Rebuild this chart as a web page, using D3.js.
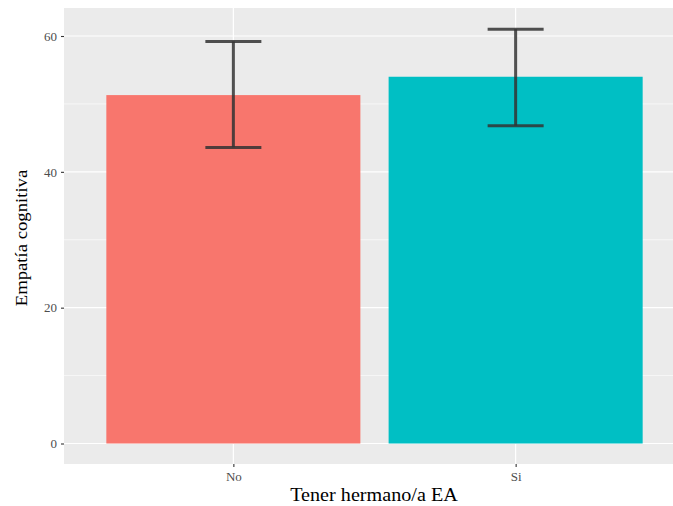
<!DOCTYPE html>
<html lang="es">
<head>
<meta charset="UTF-8">
<title>Empatía cognitiva</title>
<script src="https://d3js.org/d3.v7.min.js"></script>
<style>
  body { margin: 0; background: #fff; }
  svg { display: block; font-family: "Liberation Serif", "DejaVu Serif", serif; }
  .tick text { fill: #4d4d4d; font-size: 13px; font-family: "Liberation Serif", serif; }
</style>
</head>
<body>
<svg id="chart" width="673" height="506"></svg>
<script>
// datos
const categories = ["No", "Si"];
const means = [51.3, 54.0];
const lower = [43.6, 46.8];
const upper = [59.2, 61.0];
const yTicks = [0, 20, 40, 60];
const colors = ["#F8766D", "#00BFC4"];

const svg = d3.select("#chart");
const panel = { left: 64, top: 8, right: 685, bottom: 464 };

// escala discreta con la expansión de ggplot (0.6 unidades por lado)
const x = d3.scaleLinear().domain([0.4, 2.6]).range([panel.left, panel.right]);
const y = d3.scaleLinear().domain([0, 60]).range([443.5, 36]);
const barW = x(1.45) - x(0.55);

svg.append("rect")
  .attr("x", panel.left).attr("y", panel.top)
  .attr("width", panel.right - panel.left).attr("height", panel.bottom - panel.top)
  .attr("fill", "#ebebeb");

const minor = [10, 30, 50];
svg.selectAll(".minor").data(minor).enter().append("line")
  .attr("x1", panel.left).attr("x2", panel.right)
  .attr("y1", d => y(d)).attr("y2", d => y(d))
  .attr("stroke", "#fff").attr("stroke-width", 0.6);

svg.selectAll(".major").data(yTicks).enter().append("line")
  .attr("x1", panel.left).attr("x2", panel.right)
  .attr("y1", d => y(d)).attr("y2", d => y(d))
  .attr("stroke", "#fff").attr("stroke-width", 1.2);

svg.selectAll(".vgrid").data(categories).enter().append("line")
  .attr("x1", (d, i) => x(i + 1)).attr("x2", (d, i) => x(i + 1))
  .attr("y1", panel.top).attr("y2", panel.bottom)
  .attr("stroke", "#fff").attr("stroke-width", 1.2);

// barras
svg.selectAll(".bar").data(means).enter().append("rect")
  .attr("x", (d, i) => x(i + 1) - barW / 2)
  .attr("y", d => y(d))
  .attr("width", barW)
  .attr("height", d => y(0) - y(d))
  .attr("fill", (d, i) => colors[i]);

// barras de error
const capW = 56;
const eb = svg.selectAll(".err").data(categories).enter().append("g")
  .attr("stroke", "#333").attr("stroke-opacity", 0.85).attr("stroke-width", 3);
eb.append("line")
  .attr("x1", (d, i) => x(i + 1)).attr("x2", (d, i) => x(i + 1))
  .attr("y1", (d, i) => y(upper[i])).attr("y2", (d, i) => y(lower[i]));
eb.append("line")
  .attr("x1", (d, i) => x(i + 1) - capW / 2).attr("x2", (d, i) => x(i + 1) + capW / 2)
  .attr("y1", (d, i) => y(upper[i])).attr("y2", (d, i) => y(upper[i]));
eb.append("line")
  .attr("x1", (d, i) => x(i + 1) - capW / 2).attr("x2", (d, i) => x(i + 1) + capW / 2)
  .attr("y1", (d, i) => y(lower[i])).attr("y2", (d, i) => y(lower[i]));

// ejes
const yAxis = d3.axisLeft(y).tickValues(yTicks).tickSize(3).tickPadding(4);
svg.append("g").attr("transform", `translate(${panel.left},0)`).call(yAxis)
  .attr("font-family", null).attr("font-size", null)
  .call(g => g.select(".domain").remove())
  .call(g => g.selectAll(".tick line").attr("stroke", "#333").attr("stroke-width", 1.1));

const xBand = d3.scalePoint().domain(categories).range([x(1), x(2)]);
const xAxis = d3.axisBottom(xBand).tickSize(3).tickPadding(5);
svg.append("g").attr("transform", `translate(0,${panel.bottom})`).call(xAxis)
  .attr("font-family", null).attr("font-size", null)
  .call(g => g.select(".domain").remove())
  .call(g => g.selectAll(".tick line").attr("stroke", "#333").attr("stroke-width", 1.1));

svg.append("text")
  .attr("transform", "translate(374,501) scale(1.12,1)")
  .attr("text-anchor", "middle").attr("font-size", 18).attr("fill", "#000")
  .text("Tener hermano/a EA");

svg.append("text")
  .attr("transform", "translate(27,238) rotate(-90) scale(1.1,1)")
  .attr("text-anchor", "middle").attr("font-size", 17).attr("fill", "#000")
  .text("Empatía cognitiva");
</script>
</body>
</html>
